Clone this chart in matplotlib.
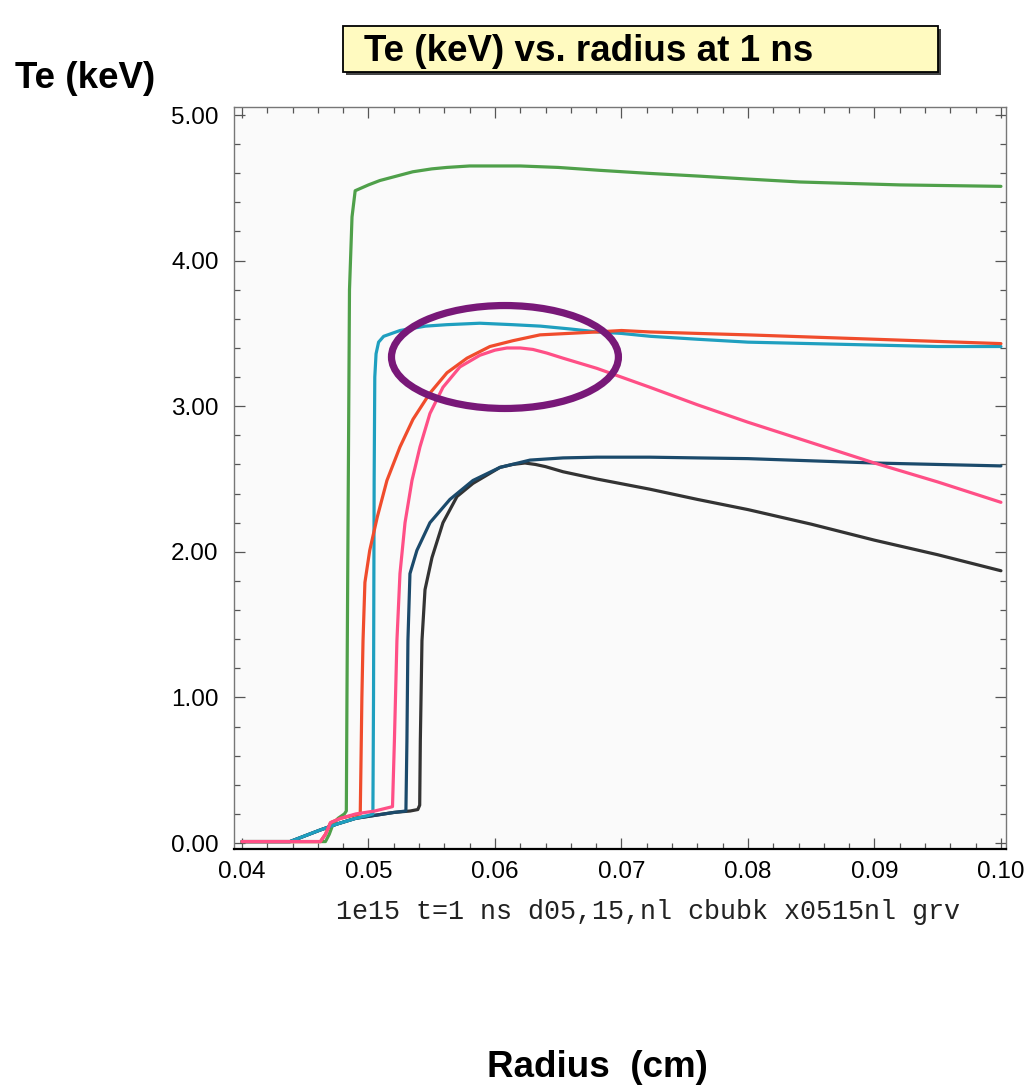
import matplotlib
matplotlib.use("Agg")
import matplotlib.pyplot as plt
from matplotlib.patches import Ellipse, Rectangle
from matplotlib.ticker import MultipleLocator, FormatStrFormatter

# ---- Te profiles at t = 1 ns (radius in cm, Te in keV) ----
green_r = [0.0400, 0.0466, 0.0469, 0.0472, 0.0476, 0.0481, 0.04825, 0.0483, 0.0485, 0.0487,
           0.04895, 0.0500, 0.0509, 0.0522, 0.0535, 0.0550, 0.0562, 0.0580, 0.0600, 0.0620,
           0.0650, 0.0683, 0.0720, 0.0762, 0.0800, 0.0841, 0.0880, 0.0920, 0.0960, 0.1000]
green_te = [0.01, 0.01, 0.06, 0.13, 0.17, 0.20, 0.22, 1.00, 3.80, 4.30,
            4.48, 4.52, 4.55, 4.58, 4.61, 4.63, 4.64, 4.65, 4.65, 4.65,
            4.64, 4.62, 4.60, 4.58, 4.56, 4.54, 4.53, 4.52, 4.515, 4.51]

cyan_r = [0.0400, 0.0438, 0.0450, 0.0462, 0.0475, 0.0490, 0.0500, 0.05035, 0.0504, 0.05045,
          0.0505, 0.0506, 0.0508, 0.0512, 0.0525, 0.0545, 0.0562, 0.0588, 0.0614, 0.0636,
          0.0660, 0.0681, 0.0700, 0.0723, 0.0760, 0.0800, 0.0850, 0.0900, 0.0950, 0.1000]
cyan_te = [0.01, 0.01, 0.05, 0.09, 0.13, 0.17, 0.19, 0.20, 1.00, 2.50,
           3.20, 3.36, 3.44, 3.48, 3.52, 3.55, 3.56, 3.57, 3.56, 3.55,
           3.53, 3.51, 3.50, 3.48, 3.46, 3.44, 3.43, 3.42, 3.41, 3.41]

orange_r = [0.0400, 0.0462, 0.0466, 0.0470, 0.0478, 0.0488, 0.04935, 0.0494, 0.04948, 0.04957,
            0.04972, 0.0501, 0.0507, 0.05146, 0.05249, 0.05352, 0.05486, 0.05621, 0.05779, 0.0596,
            0.06142, 0.06356, 0.0658, 0.06806, 0.0700, 0.07225, 0.0760, 0.0800, 0.0850, 0.0900,
            0.0950, 0.1000]
orange_te = [0.01, 0.01, 0.06, 0.14, 0.17, 0.19, 0.20, 0.50, 1.00, 1.39,
             1.79, 2.01, 2.24, 2.49, 2.72, 2.91, 3.09, 3.23, 3.33, 3.41,
             3.45, 3.49, 3.50, 3.51, 3.52, 3.51, 3.50, 3.49, 3.475, 3.46,
             3.445, 3.43]

pink_r = [0.0400, 0.0462, 0.0466, 0.0470, 0.0478, 0.0490, 0.0505, 0.0519, 0.05205, 0.05225,
          0.05249, 0.05289, 0.05344, 0.05407, 0.05486, 0.05589, 0.05723, 0.05881, 0.0600, 0.06095,
          0.0620, 0.0630, 0.0641, 0.06538, 0.06806, 0.07225, 0.0760, 0.0800, 0.0850, 0.0900,
          0.0950, 0.1000]
pink_te = [0.01, 0.01, 0.06, 0.14, 0.17, 0.20, 0.22, 0.25, 0.70, 1.39,
           1.85, 2.20, 2.49, 2.72, 2.95, 3.13, 3.27, 3.35, 3.385, 3.40,
           3.40, 3.39, 3.365, 3.33, 3.26, 3.13, 3.01, 2.89, 2.75, 2.61,
           2.48, 2.34]

navy_r = [0.0400, 0.0438, 0.0450, 0.0462, 0.0475, 0.0490, 0.0505, 0.0520, 0.05296, 0.05304,
          0.05312, 0.05328, 0.05383, 0.05486, 0.05644, 0.05826, 0.0604, 0.06277, 0.06538, 0.06806,
          0.07225, 0.0760, 0.0800, 0.0850, 0.0900, 0.0950, 0.1000]
navy_te = [0.01, 0.01, 0.05, 0.09, 0.13, 0.17, 0.19, 0.21, 0.22, 0.70,
           1.39, 1.85, 2.01, 2.20, 2.36, 2.49, 2.58, 2.63, 2.645, 2.65,
           2.65, 2.645, 2.64, 2.625, 2.61, 2.60, 2.59]

black_r = [0.0400, 0.0438, 0.0450, 0.0462, 0.0475, 0.0490, 0.0505, 0.0520, 0.0533, 0.0539,
           0.05405, 0.0541, 0.05423, 0.05447, 0.05502, 0.05589, 0.0570, 0.05826, 0.0604, 0.0614,
           0.06237, 0.0632, 0.0640, 0.06538, 0.06806, 0.07225, 0.0760, 0.0800, 0.0850, 0.0900,
           0.0950, 0.1000]
black_te = [0.01, 0.01, 0.05, 0.09, 0.13, 0.17, 0.19, 0.21, 0.22, 0.23,
            0.26, 0.70, 1.39, 1.74, 1.96, 2.20, 2.38, 2.47, 2.58, 2.60,
            2.61, 2.60, 2.585, 2.55, 2.50, 2.43, 2.36, 2.29, 2.19, 2.08,
            1.98, 1.87]

x_ticks = [0.04, 0.05, 0.06, 0.07, 0.08, 0.09, 0.10]
y_ticks = [0.0, 1.0, 2.0, 3.0, 4.0, 5.0]

title_text = "Te (keV) vs. radius at 1 ns"
y_label = "Te (keV)"
x_label = "Radius  (cm)"
run_note = "1e15 t=1 ns d05,15,nl cbubk x0515nl grv"

# ---- figure layout (pixel helpers) ----
W, H = 1029, 1089
fig = plt.figure(figsize=(W / 100, H / 100), dpi=100)
fig.patch.set_facecolor("white")


def fx(px):
    return px / W


def fy(py):
    return 1 - py / H


ax = fig.add_axes([fx(234), fy(849), fx(1006) - fx(234), fy(107) - fy(849)])
ax.set_facecolor("#fafafa")
ax.set_xlim(0.03937, 0.1004)
ax.set_ylim(-0.041, 5.055)

curves = [
    (black_r, black_te, "#333333"),
    (navy_r, navy_te, "#1b4a6b"),
    (green_r, green_te, "#4fa04a"),
    (cyan_r, cyan_te, "#1f9fbf"),
    (orange_r, orange_te, "#f04c2c"),
    (pink_r, pink_te, "#ff4f86"),
]
for r, te, col in curves:
    ax.plot(r, te, color=col, lw=2.3, solid_joinstyle="round", solid_capstyle="round")

ax.add_patch(Ellipse((0.06079, 3.338), 0.01794, 0.707, fill=False,
                     edgecolor="#781878", lw=5.2, zorder=5))

# ---- ticks and frame ----
ax.set_xticks(x_ticks)
ax.set_yticks(y_ticks)
ax.xaxis.set_major_formatter(FormatStrFormatter("%.2f"))
ax.yaxis.set_major_formatter(FormatStrFormatter("%.2f"))
ax.xaxis.set_minor_locator(MultipleLocator(0.002))
ax.yaxis.set_minor_locator(MultipleLocator(0.2))
ax.tick_params(which="both", direction="in", top=True, right=True, color="#555555", width=0.9)
ax.tick_params(which="major", length=8)
ax.tick_params(which="minor", length=4)
ax.tick_params(axis="x", which="major", pad=9)
ax.tick_params(axis="y", which="major", pad=11)
for lab in ax.get_xticklabels() + ax.get_yticklabels():
    lab.set_fontfamily("Liberation Sans")
    lab.set_fontsize(17.5)
for side in ("left", "top", "right"):
    ax.spines[side].set_color("#777777")
    ax.spines[side].set_linewidth(1.0)
ax.spines["bottom"].set_color("black")
ax.spines["bottom"].set_linewidth(1.6)

# ---- title box ----
bx0, bx1, by0, by1 = 343, 938, 26, 72
fig.add_artist(Rectangle((fx(bx0 + 3), fy(by1 + 3)), fx(bx1) - fx(bx0), fy(by0) - fy(by1),
                         transform=fig.transFigure, facecolor="#444444", edgecolor="none"))
fig.add_artist(Rectangle((fx(bx0), fy(by1)), fx(bx1) - fx(bx0), fy(by0) - fy(by1),
                         transform=fig.transFigure, facecolor="#fffac0",
                         edgecolor="black", lw=1.3))
fig.text(fx(364), fy(61), title_text, fontsize=26.5, fontweight="bold",
         fontfamily="Liberation Sans", ha="left", va="baseline")

fig.text(fx(15), fy(88), y_label, fontsize=26.5, fontweight="bold",
         fontfamily="Liberation Sans", ha="left", va="baseline")
fig.text(fx(597), fy(1077), x_label, fontsize=26.5, fontweight="bold",
         fontfamily="Liberation Sans", ha="center", va="baseline")
fig.text(fx(336), fy(919), run_note, fontsize=19.3,
         fontfamily="Liberation Mono", ha="left", va="baseline", color="#222222")

fig.savefig("out.png", dpi=100)
